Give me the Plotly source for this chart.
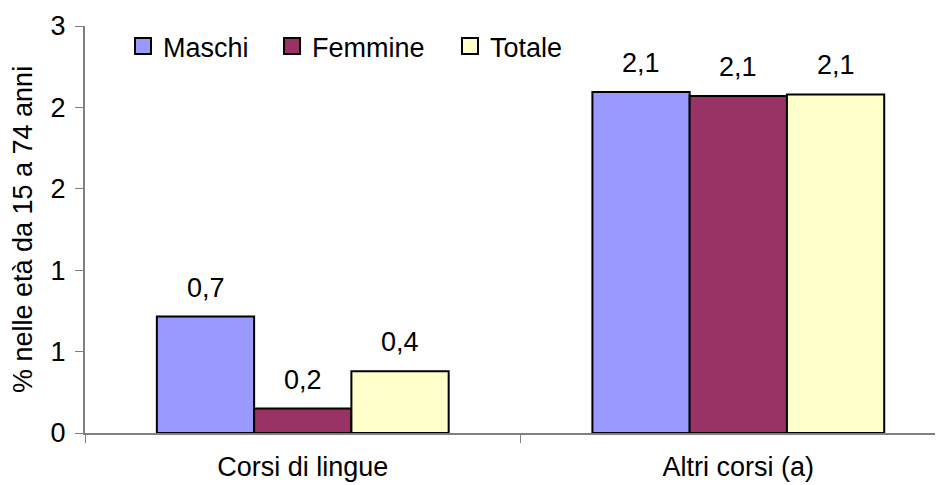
import plotly.graph_objects as go

categories = ["Corsi di lingue", "Altri corsi (a)"]
series_names = ["Maschi", "Femmine", "Totale"]
maschi = [0.715, 2.095]
femmine = [0.15, 2.07]
totale = [0.38, 2.08]
label_maschi = ["0,7", "2,1"]
label_femmine = ["0,2", "2,1"]
label_totale = ["0,4", "2,1"]
y_tickvals = [0, 0.5, 1, 1.5, 2, 2.5]
y_ticktext = ["0", "1", "1", "2", "2", "3"]

colors = ["#9999FF", "#993366", "#FFFFCC"]
values = [maschi, femmine, totale]
labels = [label_maschi, label_femmine, label_totale]
legend_ids = ["legend", "legend2", "legend3"]
legend_x = [0.0443, 0.218, 0.4254]

FONT = "Liberation Sans, Arial, sans-serif"
FS = 27
BARGAP = 0.33
xpos = list(range(len(categories)))

fig = go.Figure()
for name, vals, col in zip(series_names, values, colors):
    fig.add_trace(go.Bar(
        x=xpos, y=vals, name=name, marker=dict(color=col, line=dict(color="black", width=2)),
        showlegend=False, hoverinfo="skip"))
# legend entries with larger square symbols
for name, col, lid in zip(series_names, colors, legend_ids):
    fig.add_trace(go.Scatter(
        x=[None], y=[None], mode="markers", name=name, legend=lid,
        marker=dict(symbol="square", size=16, color=col, line=dict(color="black", width=2))))

bw = (1 - BARGAP) / len(series_names)
for i, labs in enumerate(labels):
    for j, (lab, v) in enumerate(zip(labs, values[i])):
        fig.add_annotation(x=xpos[j] + (i - 1) * bw, y=v, text=lab, showarrow=False,
                           yanchor="bottom", yshift=12, font=dict(size=FS, color="black", family=FONT))

leg_common = dict(orientation="h", y=1.01, xanchor="left", yanchor="top",
                  font=dict(size=FS), bgcolor="rgba(0,0,0,0)", itemwidth=30)

fig.update_layout(
    width=943, height=485,
    margin=dict(l=77, r=8, t=18, b=60),
    paper_bgcolor="white", plot_bgcolor="white",
    barmode="group", bargap=BARGAP, bargroupgap=0,
    font=dict(family=FONT, size=FS, color="black"),
    legend=dict(x=legend_x[0], **leg_common),
    legend2=dict(x=legend_x[1], **leg_common),
    legend3=dict(x=legend_x[2], **leg_common),
    xaxis=dict(range=[-0.5, 1.47], tickvals=xpos, ticktext=categories, ticks="",
               showline=True, linecolor="#808080", linewidth=2, showgrid=False, zeroline=False,
               automargin=False, ticklabelstandoff=9,
               minor=dict(tickvals=[-0.5, 0.5], ticks="outside", ticklen=8, tickcolor="#808080", tickwidth=1, showgrid=False),
               tickfont=dict(size=FS)),
    yaxis=dict(range=[0, 2.5], tickvals=y_tickvals, ticktext=y_ticktext, ticks="outside",
               ticklen=8, tickcolor="#808080", showline=True, linecolor="#808080", linewidth=2,
               showgrid=False, zeroline=False, tickfont=dict(size=FS), automargin=False,
               ticklabelstandoff=4,
               title=dict(text="% nelle età da 15 a 74 anni", font=dict(size=FS))),
)
fig.write_html("out.html")
